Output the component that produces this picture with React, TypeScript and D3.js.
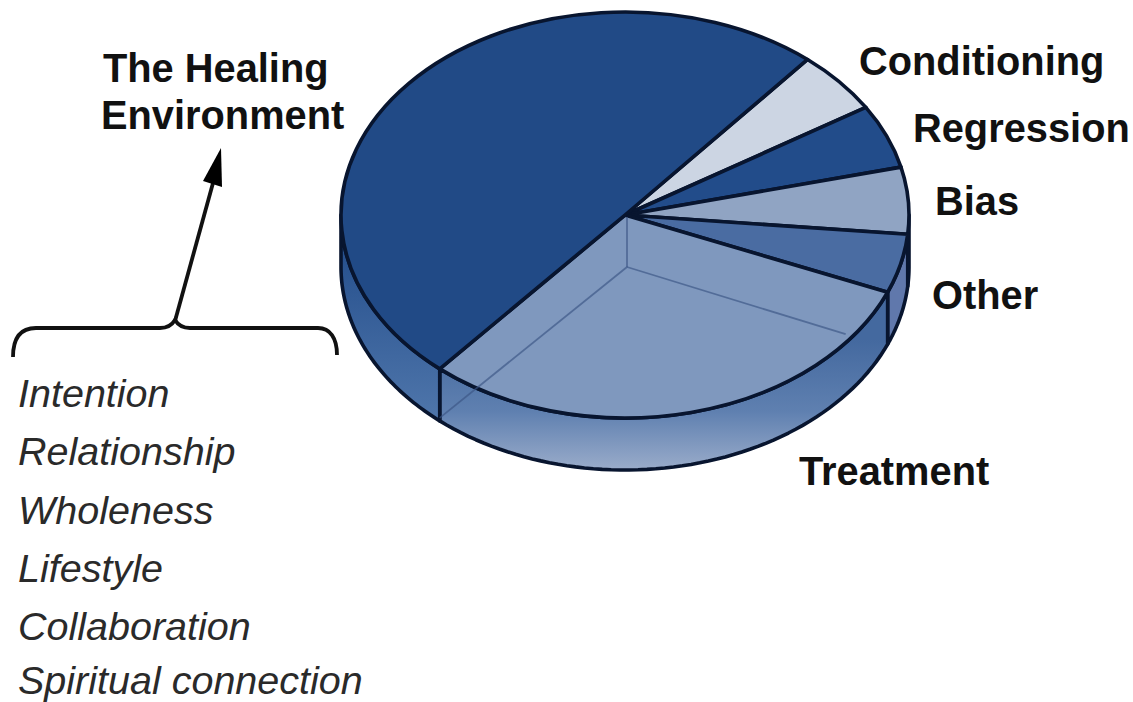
import React from "react";
import * as d3 from "d3";

// Contribution of each component to the overall healing response (percent)
const sliceNames = ["Conditioning", "Regression", "Bias", "Other", "Treatment", "The Healing Environment"];
const sliceValues = [5, 5.1, 5.3, 4.7, 30.1, 49.8];
const sliceColors = ["#ccd5e3", "#224c8a", "#90a4c3", "#4a6ca2", "#7f98be", "#214a86"];

const environmentItems = ["Intention", "Relationship", "Wholeness", "Lifestyle", "Collaboration", "Spiritual connection"];
const environmentBaselines = [407, 465, 523.5, 582, 640, 694];
const sliceLabels = [
  { text: "Conditioning", x: 859, y: 75 },
  { text: "Regression", x: 913, y: 142 },
  { text: "Bias", x: 935, y: 215 },
  { text: "Other", x: 932, y: 309 },
  { text: "Treatment", x: 799, y: 485 },
];

const WIDTH = 1133;
const HEIGHT = 702;
const CX = 625;
const CY = 215;
const RX = 284;
const RY = 203;
const DEPTH = 52;
const INK = "#08152f";
const FONT = "'Liberation Sans', Arial, sans-serif";

const pie = d3
  .pie<number>()
  .sort(null)
  .startAngle((40 * Math.PI) / 180)
  .endAngle((400 * Math.PI) / 180);
const arcs = pie(sliceValues);

// Flat wedge on a circle of radius RX; the group transform squashes it to the tilted ellipse.
const wedge = d3.arc<d3.PieArcDatum<number>>().innerRadius(0).outerRadius(RX);

const rim = (a: number, dy = 0): [number, number] => [
  CX + RX * Math.sin(a),
  CY - RY * Math.cos(a) + dy,
];

// Outer wall under a slice, limited to the half of the rim that faces the viewer.
const sidePath = (start: number, end: number): string | null => {
  const a0 = Math.max(start, Math.PI / 2);
  const a1 = Math.min(end, (3 * Math.PI) / 2);
  if (a1 <= a0) return null;
  const steps = d3.range(0, 61).map((i) => a0 + ((a1 - a0) * i) / 60);
  const pts = [...steps.map((a) => rim(a)), ...[...steps].reverse().map((a) => rim(a, DEPTH))];
  return d3.line().curve(d3.curveLinear)(pts) + "Z";
};

const sideFills = ["none", "none", "#4f6fa5", "#6078ac", "url(#treatmentSide)", "url(#healingSide)"];

export default function App() {
  const treatment = arcs[4];
  const floorStart = rim(treatment.startAngle, DEPTH);
  const floorEnd = rim(treatment.endAngle, DEPTH);
  const bottomCentre: [number, number] = [CX + 2, CY + DEPTH];

  return (
    <svg
      width={WIDTH}
      height={HEIGHT}
      viewBox={`0 0 ${WIDTH} ${HEIGHT}`}
      style={{ position: "absolute", left: 0, top: 0, background: "#fff" }}
    >
      <defs>
        <linearGradient id="treatmentSide" gradientUnits="userSpaceOnUse" x1="0" y1="340" x2="0" y2="470">
          <stop offset="0" stopColor="#44699f" />
          <stop offset="0.55" stopColor="#5f80b0" />
          <stop offset="1" stopColor="#9aacca" />
        </linearGradient>
        <linearGradient id="healingSide" gradientUnits="userSpaceOnUse" x1="0" y1="230" x2="0" y2="420">
          <stop offset="0" stopColor="#224c8a" />
          <stop offset="1" stopColor="#4f76ab" />
        </linearGradient>
      </defs>

      {/* walls first, so the top face overlaps them */}
      {arcs.map((d, i) => {
        const p = sidePath(d.startAngle, d.endAngle);
        return p ? <path key={i} d={p} fill={sideFills[i]} stroke={INK} strokeWidth={3.6} strokeLinejoin="round" /> : null;
      })}

      {/* top face */}
      <g transform={`translate(${CX},${CY}) scale(1,${RY / RX})`}>
        {arcs.map((d, i) => (
          <path
            key={i}
            d={wedge(d) as string}
            fill={sliceColors[i]}
            stroke={INK}
            strokeWidth={3.6}
            strokeLinejoin="round"
            style={{ vectorEffect: "non-scaling-stroke" }}
          />
        ))}
      </g>

      {/* hidden edges seen through the treatment slice */}
      <g fill="none" stroke="#3b5484" strokeWidth={1.8} strokeOpacity={0.65}>
        <line x1={CX + 2} y1={CY + 2} x2={bottomCentre[0]} y2={bottomCentre[1]} />
        <line x1={bottomCentre[0]} y1={bottomCentre[1]} x2={floorStart[0] - 42} y2={floorStart[1] - 10} />
        <line x1={bottomCentre[0]} y1={bottomCentre[1]} x2={floorEnd[0]} y2={floorEnd[1] - 3} />
      </g>

      {/* callout arrow and brace */}
      <g fill="none" stroke="#111" strokeWidth={3.8} strokeLinecap="butt">
        <path d="M175,321 L213,183" />
        <path d="M13,357 C13,338 20,328 36,328 L160,328 C168,328 172,325 175,320 C178,325 183,328 190,328 L318,328 C330,328 337,338 337,355" />
      </g>
      <path d="M221,148 L203,181 L222,187 Z" fill="#000" />

      <g fontFamily={FONT} fontWeight="700" fontSize={39.8} fill="#111">
        <text x={103} y={82}>The Healing</text>
        <text x={101} y={129}>Environment</text>
        {sliceLabels.map((l) => (
          <text key={l.text} x={l.x} y={l.y}>{l.text}</text>
        ))}
      </g>

      <g fontFamily={FONT} fontStyle="italic" fontSize={39.5} fill="#2a2a2a">
        {environmentItems.map((t, i) => (
          <text key={t} x={18} y={environmentBaselines[i]}>{t}</text>
        ))}
      </g>
    </svg>
  );
}
